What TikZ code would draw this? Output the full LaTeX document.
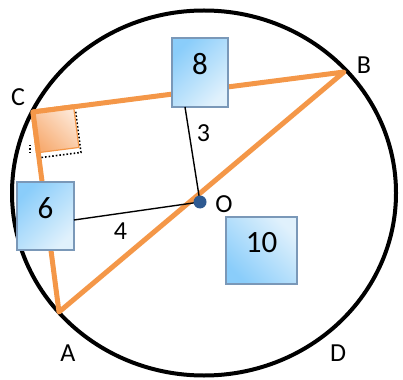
\documentclass[tikz,border=0pt]{standalone}
\usepackage{fontspec}
\setmainfont{Carlito}
\usetikzlibrary{calc}
\definecolor{orangeline}{RGB}{244,151,72}
\definecolor{boxlight}{RGB}{224,241,252}
\definecolor{boxdark}{RGB}{138,205,250}
\definecolor{boxborder}{RGB}{122,152,184}
\definecolor{peachlight}{RGB}{253,230,212}
\definecolor{peachdark}{RGB}{247,172,114}
\definecolor{dotblue}{RGB}{46,90,145}
\begin{document}
\begin{tikzpicture}[x=1pt,y=-1pt,
  lbl/.style={font=\fontsize{26}{26}\selectfont, inner sep=0pt},
  numbox/.style={draw=boxborder, line width=1.3pt, inner sep=0pt,
    font=\fontsize{31}{31}\selectfont, text height=20pt, text depth=16pt},
  darkbl/.style={left color=boxdark, right color=boxlight, shading angle=45},
  darkbr/.style={left color=boxlight, right color=boxdark, shading angle=-45},
  tri/.style={draw=orangeline, line width=5pt, line join=round},
  thin/.style={draw=black, line width=1.4pt}]
\useasboundingbox (0,0) rectangle (403,379);
% circle
\draw[line width=4pt] (204,193) ellipse [x radius=192, y radius=182.5];
% points
\coordinate (C) at (33,112);
\coordinate (B) at (344,72);
\coordinate (A) at (59,312);
\coordinate (O) at (200,202);
% triangle
\draw[tri] (C) -- (B) -- (A) -- cycle;
% right-angle mark
\coordinate (sqB) at ($(C)!41pt!(B)$);
\coordinate (sqA) at ($(C)!41pt!(A)$);
\coordinate (sqD) at ($(sqB)+(sqA)-(C)$);
\draw[black, dotted, line width=1.6pt] ($(sqB)+(2,5)$) -- ($(sqD)+(2,5)$) -- ($(sqA)+(2,5)$);
\draw[black, dotted, line width=1.6pt] ($(sqA)+(-8,-8)$) -- ($(sqA)+(-8,2)$);
\path[left color=peachlight, right color=peachdark, shading angle=-45]
  (C) -- (sqB) -- (sqD) -- (sqA) -- cycle;
\draw[orangeline, line width=1.2pt] (C) -- (sqB) -- (sqD) -- (sqA) -- cycle;
\draw[tri] (sqA) -- (C) -- (sqB);
% boxes
\node[numbox, darkbl, minimum width=56pt, minimum height=69pt] (b8) at (200,72.5) {8};
\node[numbox, darkbl, minimum width=57pt, minimum height=68pt] (b6) at (45.5,216) {6};
\node[numbox, darkbr, minimum width=71pt, minimum height=67pt] (b10) at (261.5,250.5) {10};
% connectors from boxes to O
\coordinate (e8) at (185,107);
\coordinate (e6) at (74,220);
\draw[thin] (e8) -- (O);
\draw[thin] (e6) -- (O);
% centre dot
\fill[dotblue] (O) circle [radius=6.5];
% labels
\node[lbl] (lC) at (18,97) {C};
\node[lbl] (lB) at (364,65) {B};
\node[lbl] (lA) at (68,353) {A};
\node[lbl] (lD) at (338,353) {D};
\node[lbl] (lO) at (224,204) {O};
\node[lbl] (l3) at (203.5,133.5) {3};
\node[lbl] (l4) at (120.5,231) {4};
\end{tikzpicture}
\end{document}
